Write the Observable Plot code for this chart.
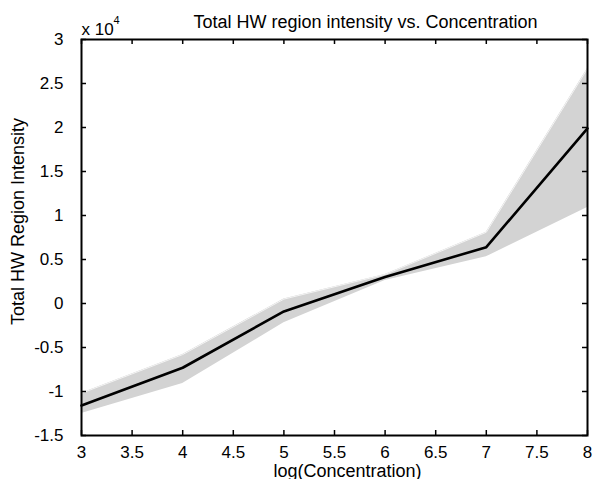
<!DOCTYPE html>
<html>
<head>
<meta charset="utf-8">
<script src="https://cdn.jsdelivr.net/npm/d3@7"></script>
<script src="https://cdn.jsdelivr.net/npm/@observablehq/plot@0.6"></script>
<style>
  html, body { margin: 0; padding: 0; background: #ffffff; }
</style>
</head>
<body>
<div id="chart"></div>
<script>
// Data (raw values; axis shows x 10^4)
const concentration = [3, 4, 5, 6, 7, 8];
const meanIntensity = [-11600, -7300, -900, 3000, 6400, 19900];
const upperIntensity = [-10200, -5800, 500, 3300, 8100, 26700];
const lowerIntensity = [-12500, -9100, -2200, 2600, 5300, 10900];
const xTicks = [3, 3.5, 4, 4.5, 5, 5.5, 6, 6.5, 7, 7.5, 8];
const yTicks = [-15000, -10000, -5000, 0, 5000, 10000, 15000, 20000, 25000, 30000];
const titleText = "Total HW region intensity vs. Concentration";
const xLabel = "log(Concentration)";
const yLabel = "Total HW Region Intensity";

const data = concentration.map((c, i) => ({
  x: c, mean: meanIntensity[i], upper: upperIntensity[i], lower: lowerIntensity[i]
}));

const W = 593, H = 479;
const mL = 81, mR = 6, mT = 39, mB = 44;
const innerW = W - mL - mR, innerH = H - mT - mB;
const tick = 5;
const font = "'Liberation Sans', Arial, Helvetica, sans-serif";

const chart = Plot.plot({
  width: W,
  height: H,
  marginLeft: mL,
  marginRight: mR,
  marginTop: mT,
  marginBottom: mB,
  style: { fontFamily: font, fontSize: "17px", background: "#ffffff", color: "#000000" },
  x: { domain: [3, 8], ticks: xTicks },
  y: { domain: [-15000, 30000], ticks: yTicks },
  marks: [
    Plot.areaY(data, { x: "x", y1: "lower", y2: "upper", fill: "#d3d3d3" }),
    Plot.line(data, { x: "x", y: "upper", stroke: "#f4f4f4", strokeWidth: 1 }),
    Plot.line(data, { x: "x", y: "mean", stroke: "#000000", strokeWidth: 2.6 }),
    // inward ticks on all four sides
    Plot.ruleX(xTicks, { x: d => d, insetTop: innerH - tick, stroke: "#000", strokeWidth: 1.5 }),
    Plot.ruleX(xTicks, { x: d => d, insetBottom: innerH - tick, stroke: "#000", strokeWidth: 1.5 }),
    Plot.ruleY(yTicks, { y: d => d, insetRight: innerW - tick, stroke: "#000", strokeWidth: 1.5 }),
    Plot.ruleY(yTicks, { y: d => d, insetLeft: innerW - tick, stroke: "#000", strokeWidth: 1.5 }),
    Plot.frame({ stroke: "#000000", strokeWidth: 2 }),
    Plot.axisX(xTicks, { anchor: "bottom", tickSize: 0, tickPadding: 10, label: null,
      tickFormat: d => String(d), fontSize: 17 }),
    Plot.axisY(yTicks, { anchor: "left", tickSize: 0, tickPadding: 18, label: null,
      tickFormat: d => String(d / 10000), fontSize: 17 }),
    // exponent "x 10^4"
    Plot.text(["x 10"], { text: d => d, frameAnchor: "top-left", textAnchor: "start",
      lineAnchor: "bottom", dx: 0, dy: -5, fontSize: 17 }),
    Plot.text(["4"], { text: d => d, frameAnchor: "top-left", textAnchor: "start",
      lineAnchor: "bottom", dx: 32, dy: -16, fontSize: 11 }),
    // title
    Plot.text([titleText], { text: d => d, frameAnchor: "top", textAnchor: "middle",
      lineAnchor: "bottom", dx: 31, dy: -12, fontSize: 18 }),
    // x label
    Plot.text([xLabel], { text: d => d, frameAnchor: "bottom", textAnchor: "middle",
      lineAnchor: "bottom", dx: 13, dy: 41, fontSize: 18 }),
    // y label
    Plot.text([yLabel], { text: d => d, frameAnchor: "top-left", textAnchor: "middle",
      lineAnchor: "middle", rotate: -90, dx: 18 - mL, dy: 221 - mT, fontSize: 18 })
  ]
});

document.getElementById("chart").appendChild(chart);
</script>
</body>
</html>
